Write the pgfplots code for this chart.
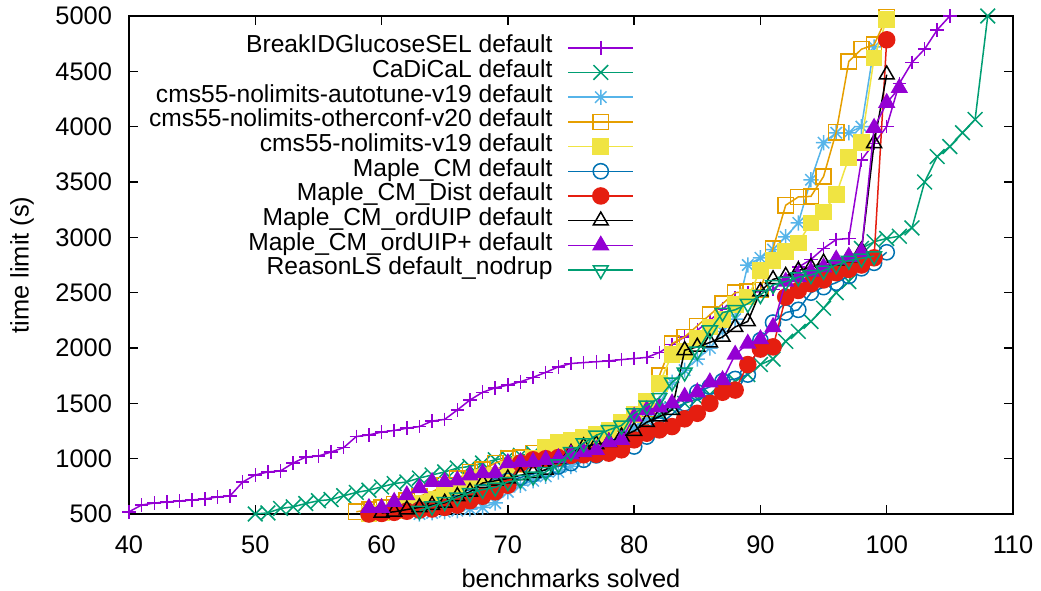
\documentclass[border=0pt]{standalone}
\usepackage{fontspec}
\setmainfont{Liberation Sans}
\usepackage{pgfplots}
\pgfplotsset{compat=1.18}
\definecolor{gpA}{HTML}{9400D3}
\definecolor{gpB}{HTML}{009E73}
\definecolor{gpC}{HTML}{56B4E9}
\definecolor{gpD}{HTML}{E69F00}
\definecolor{gpE}{HTML}{F0E442}
\definecolor{gpF}{HTML}{0072B2}
\definecolor{gpG}{HTML}{E51E10}
\pgfdeclareplotmark{gpstar}{%
  \pgfpathmoveto{\pgfqpoint{-\pgfplotmarksize}{0pt}}\pgfpathlineto{\pgfqpoint{\pgfplotmarksize}{0pt}}%
  \pgfpathmoveto{\pgfqpoint{0pt}{-\pgfplotmarksize}}\pgfpathlineto{\pgfqpoint{0pt}{\pgfplotmarksize}}%
  \pgfpathmoveto{\pgfqpoint{-.75\pgfplotmarksize}{-.75\pgfplotmarksize}}\pgfpathlineto{\pgfqpoint{.75\pgfplotmarksize}{.75\pgfplotmarksize}}%
  \pgfpathmoveto{\pgfqpoint{-.75\pgfplotmarksize}{.75\pgfplotmarksize}}\pgfpathlineto{\pgfqpoint{.75\pgfplotmarksize}{-.75\pgfplotmarksize}}%
  \pgfusepathqstroke}
\begin{document}
\fontsize{12.7bp}{14bp}\selectfont
\begin{tikzpicture}
\useasboundingbox (-64.5bp,-38.5bp) rectangle (456bp,257bp);
\begin{axis}[at={(0,0)}, anchor=south west, scale only axis,
  width=442bp, height=249bp,
  xmin=40, xmax=110, ymin=500, ymax=5000,
  xtick={40,50,...,110}, ytick={500,1000,...,5000},
  tick align=inside, major tick length=4.5bp,
  axis line style={line width=0.75bp},
  every tick/.style={black, line width=0.75bp},
  scaled ticks=false,
  /pgf/number format/1000 sep={},
  /pgf/number format/assume math mode=true,
  xticklabel style={anchor=center, inner sep=0pt, yshift=-15.5bp},
  yticklabel style={anchor=east, inner sep=0pt, xshift=-8.3bp},
  every axis y label/.style={at={(axis description cs:0,0.5)}, rotate=90, anchor=center, yshift=53.5bp},
  every axis x label/.style={at={(axis description cs:0.5,0)}, anchor=center, yshift=-32bp},
  xlabel={benchmarks solved}, ylabel={time limit (s)},
  clip mode=individual,
  legend plot pos=right, legend cell align=right,
  legend style={draw=none, fill=none, inner sep=0pt, outer sep=0pt,
    font=\fontsize{12.3bp}{14bp}\selectfont,
    at={(0.5713,1)}, anchor=north east, yshift=-9.7bp,
    nodes={inner sep=0pt, text height=8.6bp, text depth=3.75bp},
    row sep=0pt, column sep=7.5bp},
  legend image code/.code={\draw[mark repeat=2,mark phase=2,#1] plot coordinates {(0bp,0bp) (16.25bp,0bp) (32.5bp,0bp)};},
  every axis plot/.append style={line width=0.75bp, mark options={solid, line width=0.75bp}},
]
\addplot[color=gpA, mark=+, mark size=3.4bp] coordinates {
(40,520) (41,581) (42,599) (43,608) (44,618) (45,627) (46,636) (47,654) (48,663) (49,789) (50,853) (51,880) (52,889) (53,961) (54,1015) (55,1024) (56,1060) (57,1100) (58,1200) (59,1215) (60,1240) (61,1255) (62,1275) (63,1290) (64,1340) (65,1355) (66,1440) (67,1530) (68,1600) (69,1640) (70,1665) (71,1695) (72,1735) (73,1780) (74,1830) (75,1860) (76,1868) (77,1876) (78,1884) (79,1895) (80,1905) (81,1915) (82,1960) (83,2030) (84,2100) (85,2160) (86,2250) (87,2350) (88,2450) (89,2500) (90,2510) (91,2530) (92,2620) (93,2730) (94,2800) (95,2900) (96,2980) (97,2990) (98,3700) (99,3850) (100,4000) (101,4390) (102,4580) (103,4700) (104,4875) (105,5000)};
\addlegendentry{BreakIDGlucoseSEL default}
\addplot[color=gpB, mark=x, mark size=5.2bp] coordinates {
(50,500) (51,510) (52,550) (53,565) (54,595) (55,620) (56,630) (57,665) (58,695) (59,715) (60,745) (61,775) (62,790) (63,825) (64,853) (65,880) (66,915) (67,930) (68,960) (69,990) (70,1010) (71,1030) (72,1050) (73,1060) (74,1080) (75,1100) (76,1130) (77,1160) (78,1190) (79,1220) (80,1260) (81,1320) (82,1400) (83,1450) (84,1500) (85,1540) (86,1580) (87,1630) (88,1700) (89,1760) (90,1850) (91,1900) (92,2060) (93,2150) (94,2240) (95,2360) (96,2500) (97,2600) (98,2900) (99,2960) (100,2990) (101,3010) (102,3085) (103,3500) (104,3730) (105,3820) (106,3945) (107,4065) (108,5000)};
\addlegendentry{CaDiCaL default}
\addplot[color=gpC, mark=gpstar, mark size=3.8bp] coordinates {
(63,500) (64,510) (65,520) (66,530) (67,545) (68,560) (69,600) (70,700) (71,760) (72,800) (73,840) (74,880) (75,930) (76,990) (77,1050) (78,1130) (79,1220) (80,1280) (81,1350) (82,1500) (83,1690) (84,1800) (85,1900) (86,2000) (87,2150) (88,2260) (89,2750) (90,2815) (91,2890) (92,3005) (93,3130) (94,3520) (95,3855) (96,3945) (97,3945) (98,4000) (99,4720)};
\addlegendentry{cms55-nolimits-autotune-v19 default}
\addplot[color=gpD, mark=square, mark size=3.8bp] coordinates {
(58,520) (59,540) (60,560) (61,590) (62,620) (63,660) (64,700) (65,760) (66,820) (67,880) (68,900) (69,960) (70,1000) (71,1010) (72,1050) (73,1100) (74,1150) (75,1155) (76,1170) (77,1200) (78,1220) (79,1260) (80,1400) (81,1450) (82,1750) (83,2040) (84,2100) (85,2200) (86,2300) (87,2400) (88,2500) (89,2510) (90,2525) (91,2900) (92,3290) (93,3365) (94,3370) (95,3550) (96,3950) (97,4590) (98,4700) (99,4740) (100,4990)};
\addlegendentry{cms55-nolimits-otherconf-v20 default}
\addplot[color=gpE, mark=square*, mark size=3.8bp, mark options={fill=gpE}] coordinates {
(59,500) (60,510) (61,530) (62,560) (63,600) (64,630) (65,680) (66,740) (67,790) (68,830) (69,850) (70,900) (71,950) (72,1000) (73,1100) (74,1150) (75,1170) (76,1190) (77,1220) (78,1260) (79,1330) (80,1400) (81,1520) (82,1680) (83,1940) (84,1970) (85,2090) (86,2190) (87,2255) (88,2390) (89,2460) (90,2700) (91,2790) (92,2870) (93,2950) (94,3130) (95,3230) (96,3385) (97,3720) (98,3855) (99,4620) (100,4970)};
\addlegendentry{cms55-nolimits-v19 default}
\addplot[color=gpF, mark=o, mark size=3.8bp] coordinates {
(59,500) (60,510) (61,520) (62,530) (63,540) (64,550) (65,560) (66,600) (67,650) (68,700) (69,750) (70,800) (71,830) (72,860) (73,900) (74,930) (75,960) (76,990) (77,1030) (78,1060) (79,1090) (80,1110) (81,1200) (82,1300) (83,1400) (84,1500) (85,1600) (86,1650) (87,1700) (88,1720) (89,1760) (90,2070) (91,2230) (92,2320) (93,2345) (94,2500) (95,2550) (96,2590) (97,2650) (98,2720) (99,2770) (100,2865)};
\addlegendentry{Maple\_CM default}
\addplot[color=gpG, mark=*, mark size=4bp, mark options={fill=gpG}] coordinates {
(59,500) (60,505) (61,515) (62,525) (63,535) (64,545) (65,560) (66,580) (67,620) (68,660) (69,700) (70,760) (71,960) (72,990) (73,1000) (74,1010) (75,1030) (76,1035) (77,1040) (78,1050) (79,1080) (80,1170) (81,1230) (82,1260) (83,1290) (84,1360) (85,1410) (86,1500) (87,1600) (88,1620) (89,1850) (90,1990) (91,2010) (92,2460) (93,2520) (94,2580) (95,2615) (96,2680) (97,2710) (98,2750) (99,2815) (100,4785)};
\addlegendentry{Maple\_CM\_Dist default}
\addplot[color=black, mark=triangle, mark size=4.3bp] coordinates {
(60,510) (61,520) (62,540) (63,560) (64,580) (65,600) (66,660) (67,700) (68,780) (69,800) (70,820) (71,850) (72,870) (73,900) (74,1000) (75,1050) (76,1110) (77,1130) (78,1150) (79,1200) (80,1250) (81,1330) (82,1380) (83,1440) (84,1980) (85,2010) (86,2050) (87,2100) (88,2190) (89,2240) (90,2510) (91,2620) (92,2650) (93,2700) (94,2730) (95,2770) (96,2790) (97,2820) (98,2880) (99,3850) (100,4470)};
\addlegendentry{Maple\_CM\_ordUIP default}
\addplot[color=gpA, mark=triangle*, mark size=4.3bp, mark options={fill=gpA}] coordinates {
(59,555) (60,555) (61,610) (62,670) (63,735) (64,790) (65,790) (66,805) (67,850) (68,870) (69,870) (70,960) (71,970) (72,970) (73,990) (74,1005) (75,1040) (76,1060) (77,1080) (78,1150) (79,1170) (80,1380) (81,1440) (82,1465) (83,1500) (84,1560) (85,1600) (86,1690) (87,1710) (88,1940) (89,2040) (90,2080) (91,2190) (92,2600) (93,2640) (94,2690) (95,2730) (96,2800) (97,2825) (98,2870) (99,3990) (100,4215) (101,4350)};
\addlegendentry{Maple\_CM\_ordUIP+ default}
\addplot[color=gpB, mark=triangle, mark size=4.3bp, mark options={rotate=180}] coordinates {
(63,530) (64,570) (65,610) (66,650) (67,690) (68,720) (69,740) (70,790) (71,810) (72,840) (73,880) (74,950) (75,1060) (76,1140) (77,1210) (78,1260) (79,1300) (80,1410) (81,1480) (82,1550) (83,1690) (84,1780) (85,1970) (86,2160) (87,2320) (88,2345) (89,2400) (90,2480) (91,2570) (92,2600) (93,2640) (94,2660) (95,2700) (96,2750) (97,2790) (98,2810) (99,2830)};
\addlegendentry{ReasonLS default\_nodrup}
\end{axis}
\end{tikzpicture}
\end{document}
